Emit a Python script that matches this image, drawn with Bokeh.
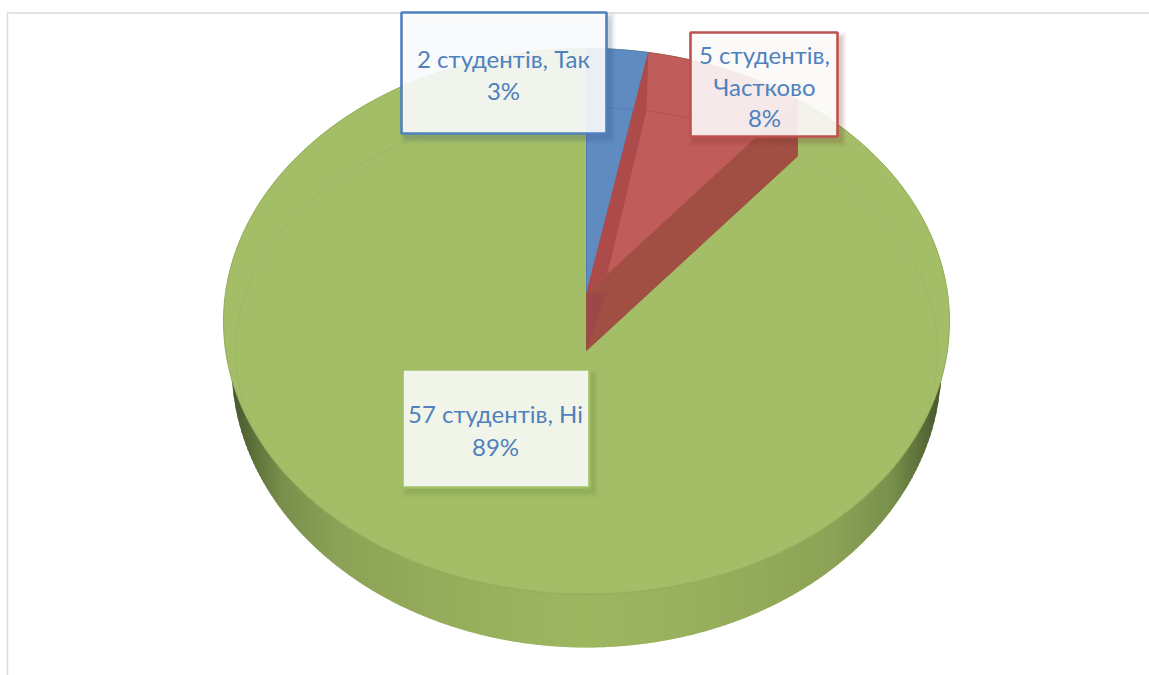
import numpy as np
from bokeh.plotting import figure
from bokeh.models import Range1d
from bokeh.core.properties import value
from bokeh.embed import file_html
from bokeh.resources import INLINE

categories = ["Так", "Частково", "Ні"]
students = [2, 5, 57]
unit = "студентів"

# layout of the projected pie (picture pixels)
CX, CY, RX, RY = 586, 321, 363, 273
IN_CY, IN_RX, IN_RY = 350, 351, 243
SIL_CY, SIL_RX, SIL_RY = 365, 355, 282
APEX_TOP, APEX_BOT = 293, 350
DEPTH = 57
PERSP = 0.87

total = sum(students)
pct = [round(v / total * 100) for v in students]
cum = np.cumsum(students) / total * 2 * np.pi


def proj(phi):
    return np.arctan(PERSP * np.tan(phi))


def rim(a, b, cy=CY, rx=RX, ry=RY, n=40):
    t = np.linspace(a, b, n)
    return CX + rx * np.sin(t), cy - ry * np.cos(t)


phi1, phi2 = proj(cum[0]), proj(cum[1])

p = figure(width=1149, height=675, x_range=Range1d(0, 1149), y_range=Range1d(675, 0),
           output_backend="svg", toolbar_location=None, min_border=0,
           x_axis_type=None, y_axis_type=None, outline_line_color=None)
p.grid.visible = False
p.background_fill_color = "white"
p.border_fill_color = "white"

# frame
p.line([7, 7, 1149], [675, 12.5, 12.5], line_color="#dcdcdc", line_width=1.6)

# side wall: overlapping strips, so that it can shade toward the ends without seams
GREEN_EDGE = "#90ac57"
STEP = 2.0
xs_w = np.arange(CX - SIL_RX, CX + SIL_RX, STEP)
stops = [0, 0.02, 0.07, 0.15, 0.3, 0.5, 0.7, 0.85, 0.93, 0.98, 1]
r_st = [70, 86, 120, 140, 150, 157, 150, 140, 120, 86, 70]
g_st = [86, 104, 144, 162, 174, 183, 174, 162, 144, 104, 86]
b_st = [44, 54, 76, 86, 92, 97, 92, 86, 76, 54, 44]
sx, sy, sc = [], [], []
for x0 in xs_w:
    x1 = min(x0 + STEP + 1.0, CX + SIL_RX)
    xx = np.array([x0, x1])
    top = CY + RY * np.sqrt(np.clip(1 - ((xx - CX) / RX) ** 2, 0, 1))
    bot = SIL_CY + SIL_RY * np.sqrt(np.clip(1 - ((xx - CX) / SIL_RX) ** 2, 0, 1))
    bot = np.maximum(bot, top)
    f = (x0 + 1 - (CX - SIL_RX)) / (2 * SIL_RX)
    col = "#%02x%02x%02x" % (int(np.interp(f, stops, r_st)), int(np.interp(f, stops, g_st)),
                             int(np.interp(f, stops, b_st)))
    sx.append([x0, x1, x1, x0])
    sy.append([top[0], top[1], bot[1], bot[0]])
    sc.append(col)
p.patches(sx, sy, fill_color=sc, line_color=None)

# green top face
gx, gy = rim(0, 2 * np.pi, n=240)
p.patch(gx, gy, fill_color="#a3be67", line_color=GREEN_EDGE, line_width=1)

# bevel line on the top face
ix, iy = rim(0, 2 * np.pi, IN_CY, IN_RX, IN_RY, 240)
p.line(ix, iy, line_color="#94af5b", line_width=0.8, line_alpha=0.5)

# blue slice
bx, by = rim(0, phi1)
p.patch([CX, *bx], [APEX_TOP, *by], fill_color="#5f8bc1", line_color="#4f7fb8", line_width=1)
bix, biy = rim(0, phi1, IN_CY, IN_RX, IN_RY, 12)
p.line(bix, biy, line_color="#4f7fb8", line_width=0.8)

# red slice: wall, top face, left bevel
rx_, ry_ = rim(phi1, phi2)
end_x, end_y = rx_[-1], ry_[-1]
p.patch([CX, end_x, end_x, CX], [APEX_TOP, end_y, end_y + DEPTH, APEX_BOT],
        fill_color="#a24f43", line_color="#98473f", line_width=0.8)
p.patch([CX, *rx_], [APEX_TOP, *ry_], fill_color="#c05c5a", line_color="#b04f4c", line_width=0.8)
rix, riy = rim(phi1, phi2, IN_CY, IN_RX, IN_RY, 20)
p.line(rix, riy, line_color="#b04f4c", line_width=0.8)
p.patch([CX, rx_[0], rix[0], CX + 21], [APEX_TOP, ry_[0], riy[0], APEX_TOP - 20],
        fill_color="#ac4b49", line_color=None)
p.patch([CX, CX + 21, CX], [APEX_TOP, APEX_TOP - 2, APEX_BOT],
        fill_color="#9c4848", line_color=None)


def label_box(left, right, top, bottom, edge, alpha, shadow):
    for grow, a in ((5, 0.05), (3, 0.08), (1, 0.12)):
        p.quad(left=[left + 4 - grow], right=[right + 4 + grow], top=[top + 5 - grow],
               bottom=[bottom + 5 + grow], fill_color=shadow, fill_alpha=a, line_color=None)
    p.quad(left=[left], right=[right], top=[top], bottom=[bottom], fill_color="white",
           fill_alpha=alpha, line_color=edge, line_width=2.6)


def label_text(cx, ys, lines):
    p.text(x=[cx] * len(lines), y=ys, text=lines, text_font=value("Lato"), text_font_size="24px",
           text_color="#4f81bd", text_align="center", text_baseline="middle")


label_box(401, 606, 12, 133, "#4f81bd", 0.88, "#2f4f7f")
label_box(690, 837, 32, 136, "#c0504d", 0.88, "#7a2f2d")
label_box(402, 589, 369, 487, "#a3be67", 0.87, "#5f7a2f")

label_text(503, [57.5, 89.5], [f"{students[0]} {unit}, {categories[0]}", f"{pct[0]}%"])
label_text(764, [53.5, 85.5, 116.5], [f"{students[1]} {unit},", categories[1], f"{pct[1]}%"])
label_text(495, [412.5, 445.5], [f"{students[2]} {unit}, {categories[2]}", f"{pct[2]}%"])

open("out.html", "w").write(file_html(p, INLINE))
